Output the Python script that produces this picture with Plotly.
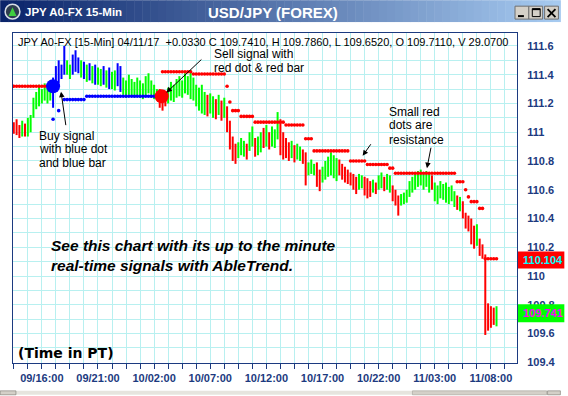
import plotly.graph_objects as go

# ---------------- data ----------------
x_tick_pos = [0, 20, 40, 60, 80, 100, 120, 140, 160]
x_tick_labels = ["09/16:00", "09/21:00", "10/02:00", "10/07:00", "10/12:00",
                 "10/17:00", "10/22:00", "11/03:00", "11/08:00"]
y_tick_vals = [109.4, 109.6, 109.8, 110.0, 110.2, 110.4, 110.6, 110.8, 111.0,
               111.2, 111.4, 111.6]
y_tick_labels = ["109.4", "109.6", "109.8", "110", "110.2", "110.4", "110.6",
                 "110.8", "111", "111.2", "111.4", "111.6"]

first_bar = -10  # bar index of the first 15-min bar (0 = 09/16:00)
bar_high = [
    111.07, 111.09, 111.05, 111.08, 111.06, 111.10, 111.12, 111.24, 111.28, 111.33,
    111.30, 111.34, 111.31, 111.36, 111.38, 111.46, 111.50, 111.47, 111.60, 111.50,
    111.47, 111.54, 111.57, 111.52, 111.50, 111.49, 111.47, 111.48, 111.46, 111.47,
    111.45, 111.44, 111.46, 111.43, 111.45, 111.42, 111.43, 111.48, 111.46, 111.38,
    111.36, 111.40, 111.37, 111.35, 111.38, 111.36, 111.34, 111.39, 111.41, 111.36,
    111.33, 111.30, 111.30, 111.27, 111.25, 111.31, 111.35, 111.33, 111.37, 111.39,
    111.36, 111.41, 111.39, 111.43, 111.38, 111.33, 111.31, 111.33, 111.28, 111.26,
    111.27, 111.25, 111.23, 111.26, 111.22, 111.24, 111.18, 111.08, 110.97, 110.92,
    110.93, 110.96, 110.94, 110.92, 111.00, 111.04, 110.96, 110.97, 111.00, 111.03,
    111.05, 111.00, 111.04, 111.02, 111.14, 111.09, 111.00, 110.96, 110.93, 110.94,
    110.91, 110.92, 110.90, 110.88, 110.86, 110.79, 110.81, 110.78, 110.79, 110.74,
    110.76, 110.80, 110.83, 110.86, 110.84, 110.82, 110.81, 110.78, 110.76, 110.74,
    110.72, 110.71, 110.69, 110.71, 110.70, 110.69, 110.68, 110.66, 110.67, 110.65,
    110.70, 110.72, 110.69, 110.71, 110.70, 110.63, 110.60, 110.56, 110.57, 110.58,
    110.60, 110.66, 110.69, 110.71, 110.73, 110.74, 110.72, 110.73, 110.71, 110.70,
    110.65, 110.63, 110.66, 110.64, 110.65, 110.62, 110.63, 110.59, 110.56, 110.55,
    110.52, 110.44, 110.42, 110.40, 110.35, 110.36, 110.26, 110.22, 110.15, 109.81,
    109.79, 109.78, 109.79]
bar_low = [
    110.99, 110.98, 110.96, 110.97, 110.97, 110.97, 111.00, 111.10, 111.16, 111.18,
    111.20, 111.22, 111.20, 111.22, 111.17, 111.31, 111.34, 111.37, 111.40, 111.40,
    111.37, 111.40, 111.42, 111.41, 111.38, 111.37, 111.35, 111.36, 111.34, 111.33,
    111.33, 111.32, 111.33, 111.31, 111.30, 111.30, 111.29, 111.32, 111.28, 111.26,
    111.24, 111.26, 111.25, 111.24, 111.25, 111.24, 111.23, 111.25, 111.27, 111.24,
    111.23, 111.22, 111.17, 111.15, 111.18, 111.20, 111.22, 111.21, 111.24, 111.25,
    111.24, 111.27, 111.26, 111.23, 111.22, 111.18, 111.15, 111.13, 111.12, 111.11,
    111.13, 111.10, 111.09, 111.12, 111.08, 111.10, 111.00, 110.88, 110.80, 110.78,
    110.82, 110.84, 110.83, 110.81, 110.87, 110.90, 110.83, 110.84, 110.86, 110.89,
    110.90, 110.88, 110.90, 110.89, 110.95, 110.84, 110.81, 110.82, 110.80, 110.82,
    110.79, 110.81, 110.80, 110.78, 110.63, 110.70, 110.71, 110.70, 110.62, 110.59,
    110.65, 110.67, 110.69, 110.70, 110.68, 110.66, 110.70, 110.67, 110.65, 110.64,
    110.63, 110.60, 110.57, 110.60, 110.61, 110.56, 110.54, 110.55, 110.58, 110.57,
    110.60, 110.61, 110.59, 110.60, 110.58, 110.52, 110.49, 110.42, 110.49, 110.50,
    110.51, 110.55, 110.58, 110.60, 110.62, 110.63, 110.60, 110.62, 110.58, 110.60,
    110.52, 110.50, 110.54, 110.53, 110.51, 110.50, 110.52, 110.48, 110.46, 110.45,
    110.40, 110.33, 110.31, 110.22, 110.19, 110.21, 110.14, 110.12, 109.59, 109.62,
    109.64, 109.66, 109.65]
bar_signal = list(
    "RRRGRGGGGG" "GGGGBBBBBG" "GBBBGBGBGB" "GGBGBGGBBG" "GGGGGGGGGG"
    "GGRRRGGGGG" "GGGGGGGGGR" "GGRGRGRRRR" "GGGRGGRGGR" "GRGGGRRRRG"
    "RGGRRGGGRR" "GGGGGGRRRR" "RRRGGRRRGR" "GGRGGRRRGG" "GGGGGGGGGR"
    "GGGGGGGGRG" "RRRRRGRRRR" "RRG")

# resistance (small red dots): start bar, end bar, level
res_start = [-10, 43, 54, 66, 67, 68, 71, 76, 87, 94, 97, 110, 116, 124, 126,
             148, 151, 152, 153, 156, 158]
res_end = [3, 53, 65, 66, 67, 70, 75, 86, 93, 96, 109, 115, 123, 125, 147,
           150, 151, 152, 155, 157, 162]
res_level = [111.32, 111.42, 111.405, 111.32, 111.21, 111.15, 111.11, 111.07,
             111.05, 110.955, 110.87, 110.80, 110.775, 110.75, 110.715,
             110.655, 110.60, 110.55, 110.517, 110.47, 110.12]
# support (small blue dots)
sup_start = [4, 6, 8, 16]
sup_end = [4, 6, 15, 41]
sup_level = [111.09, 111.15, 111.227, 111.25]

buy_x, buy_y = [4], [111.32]
sell_x, sell_y = [42.7], [111.25]

last_res_label = "110.104"
last_close_label = "109.741"
header = ("JPY A0-FX [15-Min] 04/11/17 \u00a0+0.0330 C 109.7410, H 109.7860, "
          "L 109.6520, O 109.7110, V 29.0700")

# ---------------- styling ----------------
W, H = 568, 396
PL, PR, PT, PB = 13, 524, 33, 365
NAVY = "#1c3a80"
GRID = "#b8f0f0"
ARIAL = "Liberation Sans, Arial, sans-serif"
COL = {"R": "#ff0000", "G": "#00ff00", "B": "#0000ff"}


def PX(px):
    return (px - PL) / (PR - PL)


def PY(py):
    return (PB - py) / (PB - PT)


fig = go.Figure()

# bars (high-low vertical lines), one trace per signal colour
for code in ["G", "R", "B"]:
    xs, ys = [], []
    for k, (h, l, c) in enumerate(zip(bar_high, bar_low, bar_signal)):
        if c == code:
            xs += [first_bar + k, first_bar + k, None]
            ys += [l, h, None]
    fig.add_trace(go.Scatter(x=xs, y=ys, mode="lines",
                             line=dict(color=COL[code], width=2),
                             hoverinfo="skip"))


def dots(starts, ends, levels):
    xs, ys = [], []
    for s, e, v in zip(starts, ends, levels):
        for k in range(s, e + 1):
            xs.append(k)
            ys.append(v)
    return xs, ys


rx, ry = dots(res_start, res_end, res_level)
fig.add_trace(go.Scatter(x=rx, y=ry, mode="markers",
                         marker=dict(color="#ff0000", size=3.6, line=dict(width=0))))
sx, sy = dots(sup_start, sup_end, sup_level)
fig.add_trace(go.Scatter(x=sx, y=sy, mode="markers",
                         marker=dict(color="#0000ff", size=3.6, line=dict(width=0))))
fig.add_trace(go.Scatter(x=buy_x, y=buy_y, mode="markers",
                         marker=dict(color="#0000ff", size=14, line=dict(width=0))))
fig.add_trace(go.Scatter(x=sell_x, y=sell_y, mode="markers",
                         marker=dict(color="#ff0000", size=14, line=dict(width=0))))

fig.update_layout(
    width=W, height=H, autosize=False, showlegend=False,
    margin=dict(l=PL, r=W - PR, t=PT, b=H - PB, pad=0),
    paper_bgcolor="white", plot_bgcolor="white",
    xaxis=dict(range=[-10.28, 169.3], tickmode="array", tickvals=x_tick_pos,
               ticktext=x_tick_labels, ticks="outside", ticklen=5, tickwidth=1,
               tickcolor=NAVY,
               tickfont=dict(family=ARIAL, size=11, color=NAVY, weight="bold"),
               showgrid=True, gridcolor=GRID, gridwidth=1,
               minor=dict(tickmode="linear", tick0=0, dtick=5, ticks="outside",
                          ticklen=5, tickcolor=NAVY, showgrid=True,
                          gridcolor=GRID),
               showline=True, linecolor=NAVY, linewidth=1, mirror=True,
               zeroline=False),
    yaxis=dict(side="right", range=[109.395, 111.69], tickmode="array",
               tickvals=y_tick_vals, ticktext=y_tick_labels, ticks="",
               ticklabelstandoff=7,
               tickfont=dict(family=ARIAL, size=11, color=NAVY, weight="bold"),
               showgrid=True, gridcolor=GRID, gridwidth=1,
               minor=dict(tickmode="linear", tick0=109.4, dtick=0.1,
                          showgrid=True, gridcolor=GRID),
               showline=True, linecolor=NAVY, linewidth=1, mirror=True,
               zeroline=False),
)

shapes = []


def rect(x0, y0, x1, y1, fill, line=None, lw=0):
    shapes.append(dict(type="rect", xref="paper", yref="paper",
                       x0=PX(x0), x1=PX(x1), y0=PY(y0), y1=PY(y1),
                       fillcolor=fill, layer="above",
                       line=dict(color=line or fill, width=lw)))


def seg(x0, y0, x1, y1, color, lw):
    shapes.append(dict(type="line", xref="paper", yref="paper",
                       x0=PX(x0), x1=PX(x1), y0=PY(y0), y1=PY(y1),
                       layer="above", line=dict(color=color, width=lw)))


# title bar gradient
c0, c1 = (10, 36, 106), (166, 202, 240)
n = 71
for k in range(n):
    t = k / (n - 1)
    c = tuple(int(round(c0[j] + (c1[j] - c0[j]) * t)) for j in range(3))
    rect(k * 8, 0, k * 8 + 8.5, 22, "rgb(%d,%d,%d)" % c)

# window buttons
for bx0 in (522, 536, 552):
    rect(bx0, 6, bx0 + 14, 19, "#d4d0c8", "#707070", 1)
rect(525, 15, 531, 17, "#000000")
rect(539.5, 8.5, 547.5, 16.5, "rgba(0,0,0,0)", "#000000", 1)
rect(539.5, 8.5, 547.5, 10, "#000000")
seg(555, 9, 563, 17, "#000000", 1.8)
seg(563, 9, 555, 17, "#000000", 1.8)

# app icon
shapes.append(dict(type="circle", xref="paper", yref="paper",
                   x0=PX(5), x1=PX(20), y0=PY(4), y1=PY(19), layer="above",
                   fillcolor="#2e3d50", line=dict(color="#d8dee6", width=1.5)))
shapes.append(dict(type="path", xref="paper", yref="paper", layer="above",
                   path="M %f %f L %f %f L %f %f Z" % (PX(12.5), PY(7), PX(8.5), PY(16),
                                                        PX(16.5), PY(16)),
                   fillcolor="#3fcf3f", line=dict(width=0)))

# last-price boxes
rect(525, 252.7, 572, 270, "#ff0000")
rect(525, 306, 572, 324, "#00ff00")

# bottom scrollbar
rect(0, 393, 568, 397, "#e6e4de")
rect(418, 393, 554, 397, "#d4d0c8", "#9a9890", 0.5)
rect(0, 393, 16, 397, "#d4d0c8", "#6a6860", 0.5)
rect(555, 393, 568, 397, "#d4d0c8", "#6a6860", 0.5)

fig.update_layout(shapes=shapes)

anns = []


def text(s, px, py, size=12, color="black", anchor="left", weight="normal",
         style="normal", family=ARIAL):
    anns.append(dict(text=s, xref="paper", yref="paper", x=PX(px), y=PY(py),
                     xanchor=anchor, yanchor="middle", showarrow=False,
                     font=dict(family=family, size=size, color=color,
                               weight=weight, style=style)))


def arrow(tx, ty, hx, hy):
    anns.append(dict(text="", xref="paper", yref="paper", x=PX(hx), y=PY(hy),
                     ax=tx - hx, ay=ty - hy, showarrow=True, arrowhead=2,
                     arrowsize=1.1, arrowwidth=1, arrowcolor="black",
                     standoff=0, startstandoff=0))


# title bar texts
text("JPY A0-FX 15-Min", 23.5, 12, 11.5, "white", weight="bold")
text("USD/JPY (FOREX)", 277, 12.5, 15, "white", anchor="center", weight="bold")

# header
text(header, 16.5, 42.3, 11)

# callouts
text("Buy signal", 37, 136.7)
text("with blue dot", 37, 150)
text("and blue bar", 37, 163.3)
arrow(66.7, 127, 61.7, 92)

text("Sell signal with", 215, 54)
text("red dot &amp; red bar", 215, 68.5)
arrow(205, 58.5, 168.5, 93)

text("Small red", 391.7, 112)
text("dots are", 391.7, 126)
text("resistance", 391.7, 140.5)
arrow(376.7, 143.5, 367.5, 156.5)
arrow(437, 147, 432.7, 169)

text("See this chart with its up to the minute", 50, 247, 15.5,
     weight="bold", style="italic")
text("real-time signals with AbleTrend.", 50, 267, 15.5,
     weight="bold", style="italic")
text("(Time in PT)", 16, 355, 14, weight="bold", family="DejaVu Sans")

# last price labels
text(last_res_label, 528, 261.5, 11, "#00ffff", weight="bold")
text(last_close_label, 528, 315, 11, "#ff00ff", weight="bold")

fig.update_layout(annotations=anns)

fig.write_html("out.html", config={"displayModeBar": False},
               post_script="document.body.style.margin='0';"
                           "document.body.style.overflow='hidden';")
